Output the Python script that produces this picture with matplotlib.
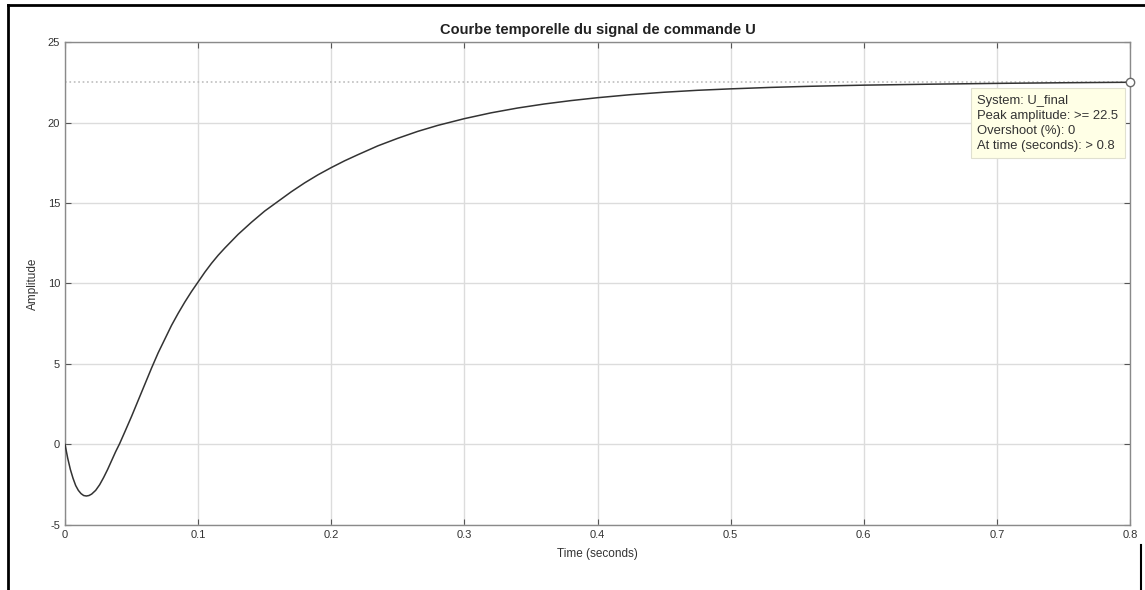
import matplotlib
matplotlib.use("Agg")
import matplotlib.pyplot as plt
from matplotlib.lines import Line2D

plt.rcParams['font.family'] = ['Liberation Sans', 'DejaVu Sans']

# Data
time_s = [0.000, 0.002, 0.004, 0.006, 0.008, 0.010, 0.012, 0.014, 0.016, 0.018,
          0.020, 0.023, 0.026, 0.029, 0.032, 0.035, 0.038, 0.041, 0.045, 0.050,
          0.055, 0.060, 0.065, 0.070, 0.075, 0.080, 0.085, 0.090, 0.095, 0.100,
          0.105, 0.110, 0.115, 0.120, 0.130, 0.140, 0.150, 0.160, 0.170, 0.180,
          0.190, 0.200, 0.210, 0.220, 0.235, 0.250, 0.265, 0.280, 0.300, 0.320,
          0.340, 0.360, 0.380, 0.400, 0.425, 0.450, 0.475, 0.500, 0.530, 0.560,
          0.600, 0.650, 0.700, 0.750, 0.800]
amplitude = [0.0, -0.85, -1.55, -2.1, -2.55, -2.85, -3.05, -3.17, -3.2, -3.17,
             -3.08, -2.85, -2.5, -2.05, -1.55, -1.0, -0.45, 0.05, 0.8, 1.75,
             2.75, 3.75, 4.75, 5.7, 6.55, 7.4, 8.15, 8.85, 9.5, 10.1,
             10.7, 11.25, 11.75, 12.2, 13.05, 13.8, 14.5, 15.1, 15.7, 16.25,
             16.75, 17.2, 17.62, 18.0, 18.55, 19.02, 19.45, 19.82, 20.24, 20.6,
             20.9, 21.15, 21.36, 21.54, 21.73, 21.88, 22.0, 22.09, 22.18, 22.25,
             22.32, 22.38, 22.43, 22.47, 22.5]
final_value = 22.5
peak_time = 0.8

xticks = [0, 0.1, 0.2, 0.3, 0.4, 0.5, 0.6, 0.7, 0.8]
xtick_labels = ['0', '0.1', '0.2', '0.3', '0.4', '0.5', '0.6', '0.7', '0.8']
yticks = [-5, 0, 5, 10, 15, 20, 25]
ytick_labels = ['-5', '0', '5', '10', '15', '20', '25']

tip_lines = ["System: U_final", "Peak amplitude: >= 22.5",
             "Overshoot (%): 0", "At time (seconds): > 0.8"]

fig = plt.figure(figsize=(11.45, 5.9), dpi=100)
ax = fig.add_axes([0.0568, 0.1102, 0.9301, 0.8186])

ax.plot([0, peak_time], [final_value, final_value], linestyle=':', color='#bdbdbd', linewidth=1.2, zorder=2)
ax.plot(time_s, amplitude, color='#333333', linewidth=1.1, zorder=3)
ax.plot([peak_time], [final_value], marker='o', markersize=6, markerfacecolor='white',
        markeredgecolor='#6a6a6a', markeredgewidth=1.0, clip_on=False, zorder=5)

ax.set_xlim(0, 0.8)
ax.set_ylim(-5, 25)
ax.set_xticks(xticks)
ax.set_xticklabels(xtick_labels)
ax.set_yticks(yticks)
ax.set_yticklabels(ytick_labels)
ax.grid(True, color='#dcdcdc', linewidth=1.0)
ax.set_axisbelow(True)
ax.tick_params(direction='in', top=True, right=True, length=4, width=0.8,
               colors='#555555', labelsize=8, labelcolor='#333333')
for s in ax.spines.values():
    s.set_color('#8a8a8a')
    s.set_linewidth(1.0)

ax.set_title("Courbe temporelle du signal de commande U", fontsize=10.5, fontweight='bold',
             color='#222222', pad=6)
ax.set_xlabel("Time (seconds)", fontsize=8.5, color='#333333', labelpad=6)
ax.set_ylabel("Amplitude", fontsize=8.5, color='#333333', labelpad=6)

ax.annotate("\n".join(tip_lines), xy=(peak_time, final_value), xytext=(-110, -9),
            textcoords='offset points', ha='left', va='top', fontsize=9.4,
            color='#333333', linespacing=1.33,
            bbox=dict(boxstyle='square,pad=0.5', facecolor='#ffffe6', edgecolor='#e0e0d0', linewidth=0.8),
            zorder=6)

# outer frame fragments
fig.add_artist(Line2D([8/1145, 8/1145], [0, 1 - 5/590], color='black', linewidth=2, transform=fig.transFigure))
fig.add_artist(Line2D([8/1145, 1], [1 - 5/590, 1 - 5/590], color='black', linewidth=2, transform=fig.transFigure))
fig.add_artist(Line2D([1141/1145, 1141/1145], [0, 1 - 545/590], color='black', linewidth=1.5, transform=fig.transFigure))

fig.savefig("out.png", dpi=100)
